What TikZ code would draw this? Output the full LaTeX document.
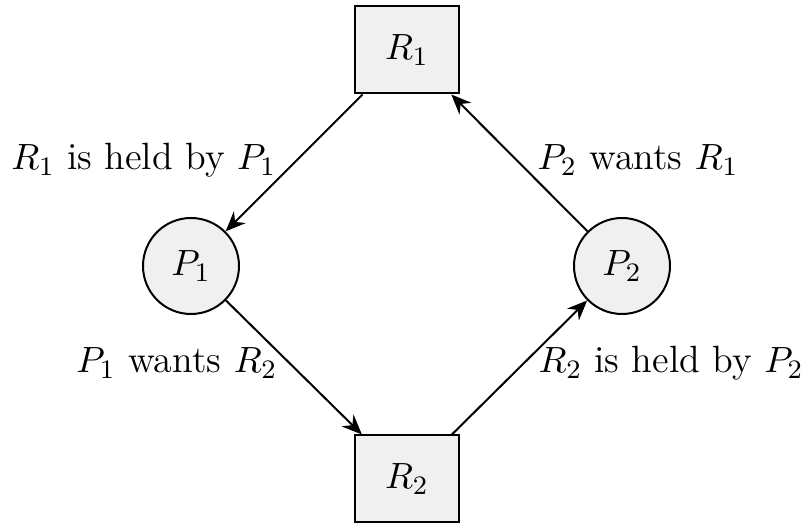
\documentclass[tikz,border=0pt]{standalone}
\usetikzlibrary{arrows.meta}
\begin{document}
\begin{tikzpicture}[x=0.3pt,y=-0.3pt,
  every node/.append style={font=\fontsize{11.4}{13.5}\selectfont},
  res/.style={draw,line width=0.6pt,fill=black!6,minimum width=31.2pt,minimum height=26.1pt,inner sep=0pt},
  proc/.style={draw,line width=0.6pt,fill=black!6,circle,minimum size=28.8pt,inner sep=0pt},
  edge/.style={line width=0.6pt,-{Stealth[length=6pt,width=5pt,inset=2pt]}},
  lbl/.style={inner sep=0pt}]
\useasboundingbox (0,0) rectangle (807,525);
\node[res] (R1) at (407,50) {$R_1$};
\node[res] (R2) at (407,479) {$R_2$};
\node[proc] (P1) at (191,266) {$P_1$};
\node[proc] (P2) at (622,266) {$P_2$};
\draw[edge] (R1) -- (P1);
\draw[edge] (P2) -- (R1);
\draw[edge] (P1) -- (R2);
\draw[edge] (R2) -- (P2);
\node[lbl,anchor=base east] (l1) at (277,170) {$R_1$ is held by $P_1$};
\node[lbl,anchor=base west] (l2) at (537,170) {$P_2$ wants $R_1$};
\node[lbl,anchor=base east] (l3) at (278,373) {$P_1$ wants $R_2$};
\node[lbl,anchor=base west] (l4) at (538,373) {$R_2$ is held by $P_2$};
\end{tikzpicture}
\end{document}
